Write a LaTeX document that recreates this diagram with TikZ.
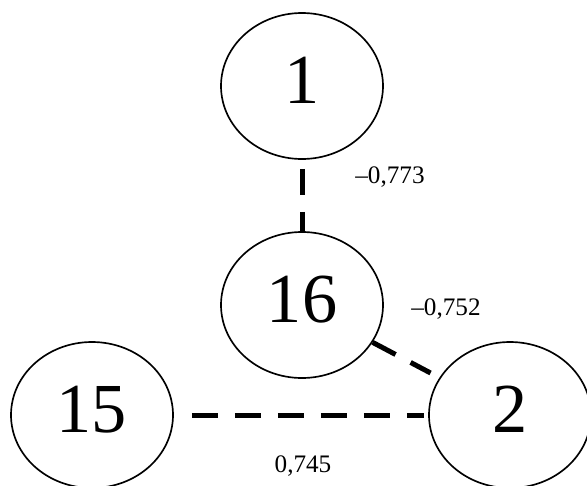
\documentclass[tikz,border=0pt]{standalone}
\usepackage{fontspec}
\setmainfont{Liberation Serif}
\usetikzlibrary{shapes.geometric}

\begin{document}
\begin{tikzpicture}[x=0.3mm,y=-0.3mm,
  vertex/.style={draw,ellipse,line width=0.5mm,inner sep=0pt,
    minimum width=48.6mm,minimum height=43.8mm,
    text height=14.4mm,text depth=4.2mm,
    font=\fontsize{60}{60}\selectfont},
  link/.style={line width=1.5mm,dash pattern=on 7.8mm off 5.1mm},
  weight/.style={font=\fontsize{21.5}{21.5}\selectfont}]

\useasboundingbox (0,0) rectangle (587,486);
\clip (0,0) rectangle (587,486);

\node[vertex] (v1) at (302,86) {1};
\node[vertex] (v16) at (302,305) {16};
\node[vertex] (v15) at (92,415) {15};
\node[vertex] (v2) at (510,415) {2};

\draw[link,shorten <=2.7mm] (v1) -- (v16);
\draw[link,shorten >=3mm] (v16) -- (v2);
\draw[link,shorten <=5.4mm,shorten >=1.2mm] (v15) -- (v2);

\node[weight] (w1) at (390,177) {–0,773};
\node[weight] (w2) at (446,309) {–0,752};
\node[weight] (w3) at (303,466) {0,745};

\end{tikzpicture}
\end{document}
